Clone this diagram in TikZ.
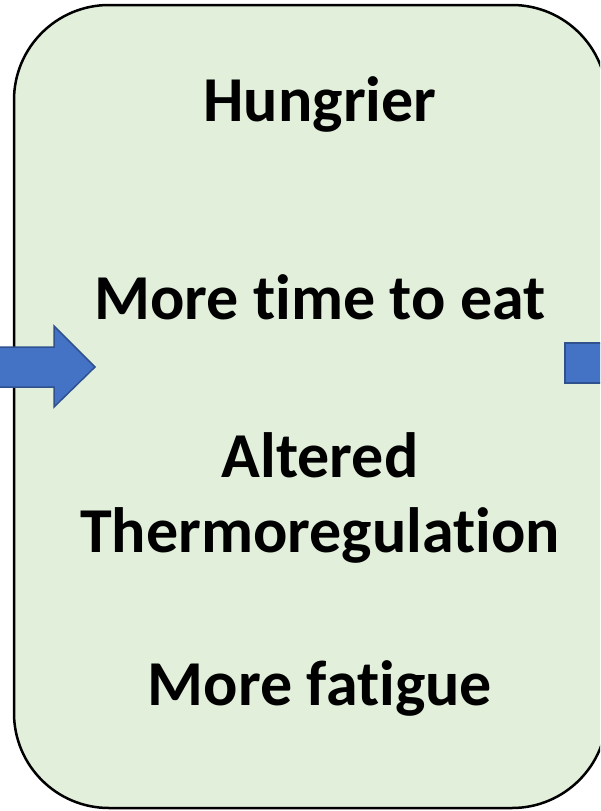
\documentclass[tikz,border=0pt]{standalone}
\usepackage{fontspec}
\setmainfont{Carlito}[Ligatures={NoCommon,NoRare,NoContextual}, RawFeature={-liga;-clig;-dlig}]
\definecolor{boxfill}{HTML}{E2EFDA}
\definecolor{arrowfill}{HTML}{4472C4}
\definecolor{arrowline}{HTML}{2F528F}
\tikzset{
  lbl/.style={anchor=base, inner sep=0pt, font=\fontsize{64}{76}\selectfont\bfseries},
  blockarrow/.style={fill=arrowfill, draw=arrowline, line width=1.5pt, line join=miter}
}
\begin{document}
\begin{tikzpicture}[x=1pt,y=-1pt]
\useasboundingbox (0,0) rectangle (600,811);
\clip (0,0) rectangle (600,811);
\fill[white] (0,0) rectangle (600,811);
\draw[fill=boxfill, line width=2.5pt, rounded corners=95pt] (14,5) rectangle (607,808);
\draw[blockarrow] (-10,347) -- (54,347) -- (54,326) -- (95,367) -- (54,407) -- (54,387) -- (-10,387) -- cycle;
\draw[blockarrow] (640,343) -- (565,343) -- (565,383) -- (640,383);
\node[lbl] (t1) at (320,121) {Hungrier};
\node[lbl] (t2) at (320,319) {More time to eat};
\node[lbl] (t3) at (320,477) {Altered};
\node[lbl] (t4) at (320,552) {Thermoregulation};
\node[lbl] (t5) at (320,705) {More fatigue};
\end{tikzpicture}
\end{document}
